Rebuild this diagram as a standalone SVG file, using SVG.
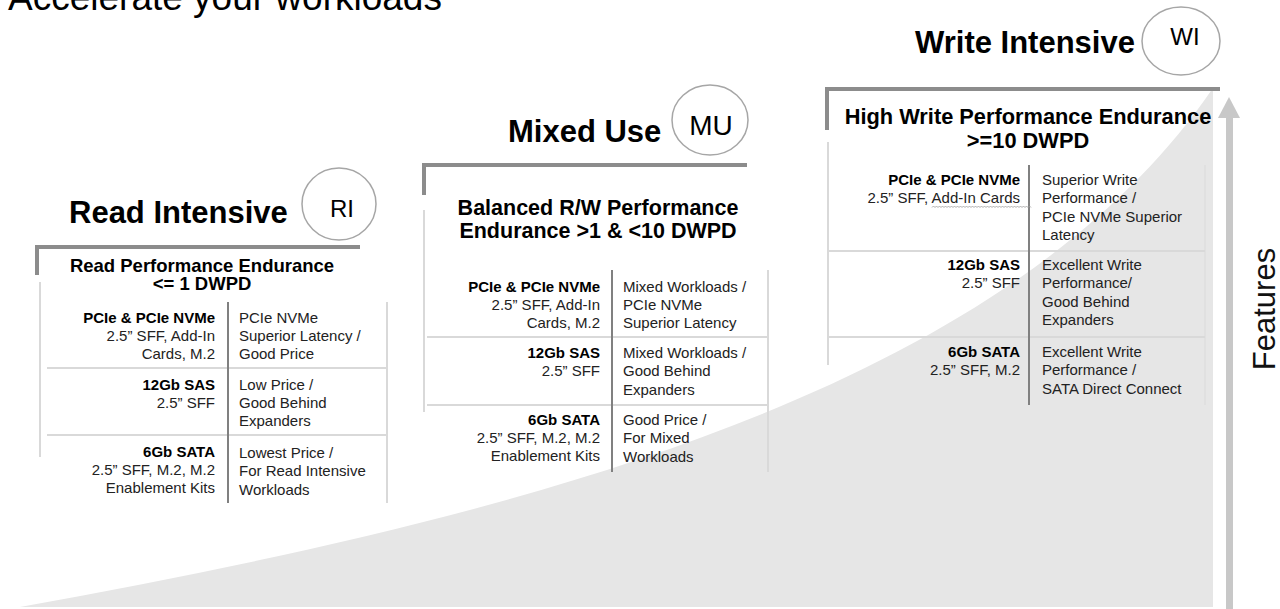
<svg xmlns="http://www.w3.org/2000/svg" width="1280" height="609" viewBox="0 0 1280 609">
<style>
text{font-family:"Liberation Sans",Arial,Helvetica,sans-serif}
.title{font-size:37px;fill:#000}
.hd{font-size:31px;font-weight:bold;fill:#000}
.badge{fill:#000;text-anchor:middle}
.sub{font-weight:bold;fill:#000;text-anchor:middle}
.c{font-size:15px;fill:#222}
.b{font-weight:bold;fill:#000}
.e{text-anchor:end}
.circ{fill:none;stroke:#a6a6a6;stroke-width:1.5}
.frame{stroke:#8c8c8c;stroke-width:4;fill:none}
.thin{stroke:#d9d9d9;stroke-width:2}
.div{stroke:#808080;stroke-width:2}
</style>
<rect width="1280" height="609" fill="#fff"/>
<g id="background">
<path d="M20 607 C500 520 1000 400 1213 88 L1213 607 Z" fill="#e6e6e6"/>
</g>
<g id="title">
<text class="title" x="8" y="10">Accelerate your workloads</text>
</g>
<g id="node-ri">
<text class="hd" x="69" y="223">Read Intensive</text>
<ellipse class="circ" cx="339" cy="204" rx="37" ry="36"/>
<text class="badge" x="342" y="217" font-size="24">RI</text>
<path class="frame" d="M37 275 V247 H360"/>
<text class="sub" x="202" y="272" font-size="18.5">Read Performance Endurance</text>
<text class="sub" x="202" y="290" font-size="18.5">&lt;= 1 DWPD</text>
<line class="thin" x1="40" y1="282" x2="40" y2="457"/>
<line class="thin" x1="387" y1="302" x2="387" y2="503"/>
<line class="thin" x1="47" y1="368" x2="387" y2="368"/>
<line class="thin" x1="47" y1="435" x2="387" y2="435"/>
<line class="div" x1="228" y1="302" x2="228" y2="503"/>
<text class="c b e" x="215" y="323">PCIe &amp; PCIe NVMe</text>
<text class="c e" x="215" y="341">2.5” SFF, Add-In</text>
<text class="c e" x="215" y="359">Cards, M.2</text>
<text class="c" x="239" y="323">PCIe NVMe</text>
<text class="c" x="239" y="341">Superior Latency /</text>
<text class="c" x="239" y="359">Good Price</text>
<text class="c b e" x="215" y="390">12Gb SAS</text>
<text class="c e" x="215" y="408">2.5” SFF</text>
<text class="c" x="239" y="390">Low Price /</text>
<text class="c" x="239" y="408">Good Behind</text>
<text class="c" x="239" y="426">Expanders</text>
<text class="c b e" x="215" y="457">6Gb SATA</text>
<text class="c e" x="215" y="475">2.5” SFF, M.2, M.2</text>
<text class="c e" x="215" y="493">Enablement Kits</text>
<text class="c" x="239" y="458">Lowest Price /</text>
<text class="c" x="239" y="476">For Read Intensive</text>
<text class="c" x="239" y="495">Workloads</text>
</g>
<g id="node-mu">
<text class="hd" x="508" y="142">Mixed Use</text>
<ellipse class="circ" cx="710" cy="120" rx="38" ry="35"/>
<text class="badge" x="711" y="135" font-size="28">MU</text>
<path class="frame" d="M424 195 V165 H747"/>
<text class="sub" x="598" y="215" font-size="21.5">Balanced R/W Performance</text>
<text class="sub" x="598" y="238" font-size="21.5">Endurance &gt;1 &amp; &lt;10 DWPD</text>
<line class="thin" x1="424" y1="210" x2="424" y2="412"/>
<line class="thin" x1="768" y1="270" x2="768" y2="472"/>
<line class="thin" x1="427" y1="337" x2="768" y2="337"/>
<line class="thin" x1="427" y1="405" x2="768" y2="405"/>
<line class="div" x1="612" y1="270" x2="612" y2="472"/>
<text class="c b e" x="600" y="292">PCIe &amp; PCIe NVMe</text>
<text class="c e" x="600" y="310">2.5” SFF, Add-In</text>
<text class="c e" x="600" y="328">Cards, M.2</text>
<text class="c" x="623" y="292">Mixed Workloads /</text>
<text class="c" x="623" y="310">PCIe NVMe</text>
<text class="c" x="623" y="328">Superior Latency</text>
<text class="c b e" x="600" y="358">12Gb SAS</text>
<text class="c e" x="600" y="376">2.5” SFF</text>
<text class="c" x="623" y="358">Mixed Workloads /</text>
<text class="c" x="623" y="376">Good Behind</text>
<text class="c" x="623" y="395">Expanders</text>
<text class="c b e" x="600" y="425">6Gb SATA</text>
<text class="c e" x="600" y="443">2.5” SFF, M.2, M.2</text>
<text class="c e" x="600" y="461">Enablement Kits</text>
<text class="c" x="623" y="425">Good Price /</text>
<text class="c" x="623" y="443">For Mixed</text>
<text class="c" x="623" y="462">Workloads</text>
</g>
<g id="node-wi">
<text class="hd" x="915" y="53">Write Intensive</text>
<ellipse class="circ" cx="1181" cy="41" rx="39" ry="34"/>
<text class="badge" x="1185" y="45" font-size="24">WI</text>
<path class="frame" d="M827 130 V89 H1220"/>
<text class="sub" x="1028" y="124" font-size="21.8">High Write Performance Endurance</text>
<text class="sub" x="1028" y="148" font-size="21.8">&gt;=10 DWPD</text>
<line class="thin" x1="828" y1="142" x2="828" y2="365"/>
<line class="thin" x1="1205" y1="165" x2="1205" y2="405" stroke-opacity="0.5"/>
<line class="thin" x1="827" y1="251" x2="1205" y2="251"/>
<line class="thin" x1="827" y1="337" x2="1205" y2="337"/>
<line class="div" x1="1029" y1="165" x2="1029" y2="405"/>
<text class="c b e" x="1020" y="185">PCIe &amp; PCIe NVMe</text>
<text class="c e" x="1020" y="203">2.5” SFF, Add-In Cards</text>
<path d="M932 207.5 l1.5-1.5l1.5 1.5l1.5-1.5l1.5 1.5l1.5-1.5l1.5 1.5l1.5-1.5l1.5 1.5l1.5-1.5l1.5 1.5l1.5-1.5l1.5 1.5l1.5-1.5l1.5 1.5l1.5-1.5l1.5 1.5l1.5-1.5l1.5 1.5l1.5-1.5l1.5 1.5l1.5-1.5l1.5 1.5l1.5-1.5l1.5 1.5l1.5-1.5l1.5 1.5l1.5-1.5l1.5 1.5l1.5-1.5l1.5 1.5l1.5-1.5l1.5 1.5l1.5-1.5l1.5 1.5l1.5-1.5l1.5 1.5l1.5-1.5l1.5 1.5l1.5-1.5l1.5 1.5l1.5-1.5l1.5 1.5l1.5-1.5l1.5 1.5l1.5-1.5l1.5 1.5l1.5-1.5l1.5 1.5l1.5-1.5l1.5 1.5l1.5-1.5l1.5 1.5l1.5-1.5l1.5 1.5l1.5-1.5l1.5 1.5l1.5-1.5l1.5 1.5l1.5-1.5l1.5 1.5l1.5-1.5l1.5 1.5l1.5-1.5l1.5 1.5l1.5-1.5l1.5 1.5" fill="none" stroke="#9a9a9a" stroke-width="0.8"/>
<text class="c" x="1042" y="185">Superior Write</text>
<text class="c" x="1042" y="203">Performance /</text>
<text class="c" x="1042" y="222">PCIe NVMe Superior</text>
<text class="c" x="1042" y="240">Latency</text>
<text class="c b e" x="1020" y="270">12Gb SAS</text>
<text class="c e" x="1020" y="288">2.5” SFF</text>
<text class="c" x="1042" y="270">Excellent Write</text>
<text class="c" x="1042" y="288">Performance/</text>
<text class="c" x="1042" y="307">Good Behind</text>
<text class="c" x="1042" y="325">Expanders</text>
<text class="c b e" x="1020" y="357">6Gb SATA</text>
<text class="c e" x="1020" y="375">2.5” SFF, M.2</text>
<text class="c" x="1042" y="357">Excellent Write</text>
<text class="c" x="1042" y="375">Performance /</text>
<text class="c" x="1042" y="394">SATA Direct Connect</text>
</g>
<g id="connectors">
<line x1="1229.5" y1="116" x2="1229.5" y2="609" stroke="#c8c8c8" stroke-width="7"/>
<polygon points="1229,97 1240,118 1218,118" fill="#c8c8c8"/>
</g>
<g id="features-label">
<text transform="translate(1275 309) rotate(-90)" text-anchor="middle" font-size="31" fill="#111">Features</text>
</g>
</svg>
